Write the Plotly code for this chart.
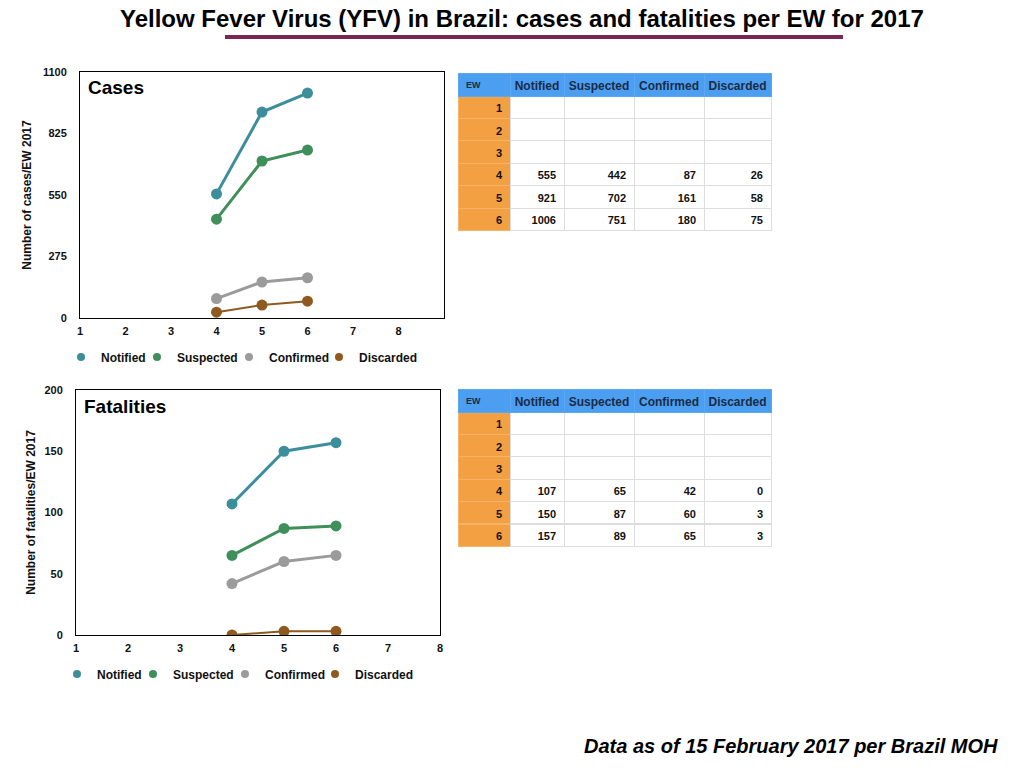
"""Yellow fever (Brazil 2017): cases and fatalities per epidemiological week."""

import plotly.graph_objects as go

# ---- data ------------------------------------------------------------------
EW = [1, 2, 3, 4, 5, 6]
SERIES = ["Notified", "Suspected", "Confirmed", "Discarded"]

CASES_NOTIFIED = [None, None, None, 555, 921, 1006]
CASES_SUSPECTED = [None, None, None, 442, 702, 751]
CASES_CONFIRMED = [None, None, None, 87, 161, 180]
CASES_DISCARDED = [None, None, None, 26, 58, 75]

DEATHS_NOTIFIED = [None, None, None, 107, 150, 157]
DEATHS_SUSPECTED = [None, None, None, 65, 87, 89]
DEATHS_CONFIRMED = [None, None, None, 42, 60, 65]
DEATHS_DISCARDED = [None, None, None, 0, 3, 3]

CASES_YTICKS = [0, 275, 550, 825, 1100]
DEATHS_YTICKS = [0, 50, 100, 150, 200]
X_TICKS = [1, 2, 3, 4, 5, 6, 7, 8]

COLORS = ["#3d8e9c", "#3f8f5a", "#9b9b9b", "#8e5a1f"]
LINE_WIDTHS = [3, 3, 3, 2]
HEADER_BLUE = "#4c9ff0"
HEADER_TEXT = "#1b2b45"
EW_ORANGE = "#f2a041"
FONT = "Liberation Sans, Arial, sans-serif"
W, H = 1024, 768
PAGE_MARGIN = 8  # default <body> margin of the exported page

# legend marker positions (px) for each panel
LEGEND_TOP_X = [84, 160, 252, 342]
LEGEND_BOT_X = [80, 156, 248, 338]


def px_x(v):
    return (v - PAGE_MARGIN) / W


def px_y(v):
    return 1 - (v - PAGE_MARGIN) / H


cases = [CASES_NOTIFIED, CASES_SUSPECTED, CASES_CONFIRMED, CASES_DISCARDED]
deaths = [DEATHS_NOTIFIED, DEATHS_SUSPECTED, DEATHS_CONFIRMED, DEATHS_DISCARDED]

fig = go.Figure()
legend_layout = {}


def add_panel(data, xaxis, yaxis, legend_x, legend_y, first_legend):
    for i, (name, color, ys) in enumerate(zip(SERIES, COLORS, data)):
        fig.add_trace(go.Scatter(
            x=EW, y=ys, name=name, mode="lines+markers",
            line=dict(color=color, width=LINE_WIDTHS[i]),
            marker=dict(color=color, size=11),
            xaxis=xaxis, yaxis=yaxis, showlegend=False,
        ))
        # one legend per entry so every item sits where the original has it
        n = first_legend + i
        key = "legend" if n == 1 else f"legend{n}"
        fig.add_trace(go.Scatter(
            x=[None], y=[None], name=name, mode="markers",
            marker=dict(color=color, size=8),
            xaxis=xaxis, yaxis=yaxis, legend=key,
        ))
        legend_layout[key] = dict(
            x=px_x(legend_x[i] - 23), y=px_y(legend_y),
            xanchor="left", yanchor="middle", orientation="h",
            font=dict(family=FONT, size=12, color="#111", weight="bold"),
            itemwidth=30, bgcolor="rgba(0,0,0,0)", borderwidth=0,
        )


add_panel(cases, "x", "y", LEGEND_TOP_X, 357, 1)
add_panel(deaths, "x2", "y2", LEGEND_BOT_X, 674, 5)


# ---- tables ----------------------------------------------------------------
def fmt(col):
    return ["" if v is None else str(v) for v in col]


def add_table(columns, y_top):
    n = len(EW)
    fig.add_trace(go.Table(
        domain=dict(x=[px_x(458), px_x(771)], y=[px_y(y_top + 175), px_y(y_top)]),
        columnwidth=[52, 54, 70, 70, 67],
        header=dict(
            values=["EW"] + SERIES,
            fill_color=HEADER_BLUE,
            line=dict(color="#5aa8f2", width=1),
            align=["left", "center", "center", "center", "center"],
            font=dict(family=FONT, size=[9, 12, 12, 12, 12], color=HEADER_TEXT,
                      weight="bold"),
            height=23,
        ),
        cells=dict(
            values=[[str(e) for e in EW]] + [fmt(c) for c in columns],
            fill_color=[[EW_ORANGE] * n] + [["white"] * n] * 4,
            line=dict(color=["#f4b367"] + ["#dddddd"] * 4, width=1),
            align="right",
            font=dict(family=FONT, size=11, color="#111", weight="bold"),
            height=22.4,
        ),
    ))


add_table(cases, 73)
add_table(deaths, 389)

# ---- layout ----------------------------------------------------------------
axis_font = dict(family=FONT, size=11, color="#111", weight="bold")
common_x = dict(
    tickvals=X_TICKS, showgrid=False, zeroline=False, showline=True,
    linecolor="black", linewidth=1, mirror=True, ticks="",
    tickfont=axis_font, automargin=False, ticklabelstandoff=3,
)
common_y = dict(
    showgrid=False, zeroline=False, showline=True, linecolor="black",
    linewidth=1, mirror=True, ticks="", tickfont=axis_font,
    automargin=False, ticklabelstandoff=10,
)
title_font = dict(family=FONT, size=12, color="#111", weight="bold")

fig.update_layout(
    width=W, height=H,
    margin=dict(l=0, r=0, t=0, b=0, autoexpand=False),
    paper_bgcolor="white", plot_bgcolor="white",
    font=dict(family=FONT, color="#111"),
    xaxis=dict(common_x, domain=[px_x(80), px_x(444)], range=[1, 9],
               anchor="y"),
    yaxis=dict(common_y, domain=[px_y(318), px_y(72)], range=[0, 1100],
               tickvals=CASES_YTICKS, anchor="x",
               title=dict(text="Number of cases/EW 2017", font=title_font,
                          standoff=8)),
    xaxis2=dict(common_x, domain=[px_x(76), px_x(440)], range=[1, 8],
                anchor="y2"),
    yaxis2=dict(common_y, domain=[px_y(635), px_y(390)], range=[0, 200],
                tickvals=DEATHS_YTICKS, anchor="x2",
                title=dict(text="Number of fatalities/EW 2017", font=title_font,
                           standoff=6)),
    showlegend=True,
    **legend_layout,
)

fig.add_annotation(
    text="<b>Yellow Fever Virus (YFV) in Brazil: cases and fatalities per EW for 2017</b>",
    x=px_x(522), y=px_y(19), xref="paper", yref="paper",
    xanchor="center", yanchor="middle", showarrow=False,
    font=dict(family="Liberation Sans Narrow, " + FONT, size=24, color="black"),
)
fig.add_shape(type="rect", xref="paper", yref="paper",
              x0=px_x(225), x1=px_x(843), y0=px_y(39), y1=px_y(35),
              fillcolor="#7a2651", line=dict(width=0))

fig.add_annotation(text="<b>Cases</b>", x=px_x(86), y=px_y(88),
                   xref="paper", yref="paper", xanchor="left", yanchor="middle",
                   showarrow=False, font=dict(family=FONT, size=19, color="black"))
fig.add_annotation(text="<b>Fatalities</b>", x=px_x(82), y=px_y(406),
                   xref="paper", yref="paper", xanchor="left", yanchor="middle",
                   showarrow=False, font=dict(family=FONT, size=19, color="black"))

fig.add_annotation(
    text="<b><i>Data as of 15 February 2017 per Brazil MOH</i></b>",
    x=px_x(1000), y=px_y(746), xref="paper", yref="paper",
    xanchor="right", yanchor="middle", showarrow=False,
    font=dict(family=FONT, size=20, color="black"),
)

fig.write_html("out.html")
